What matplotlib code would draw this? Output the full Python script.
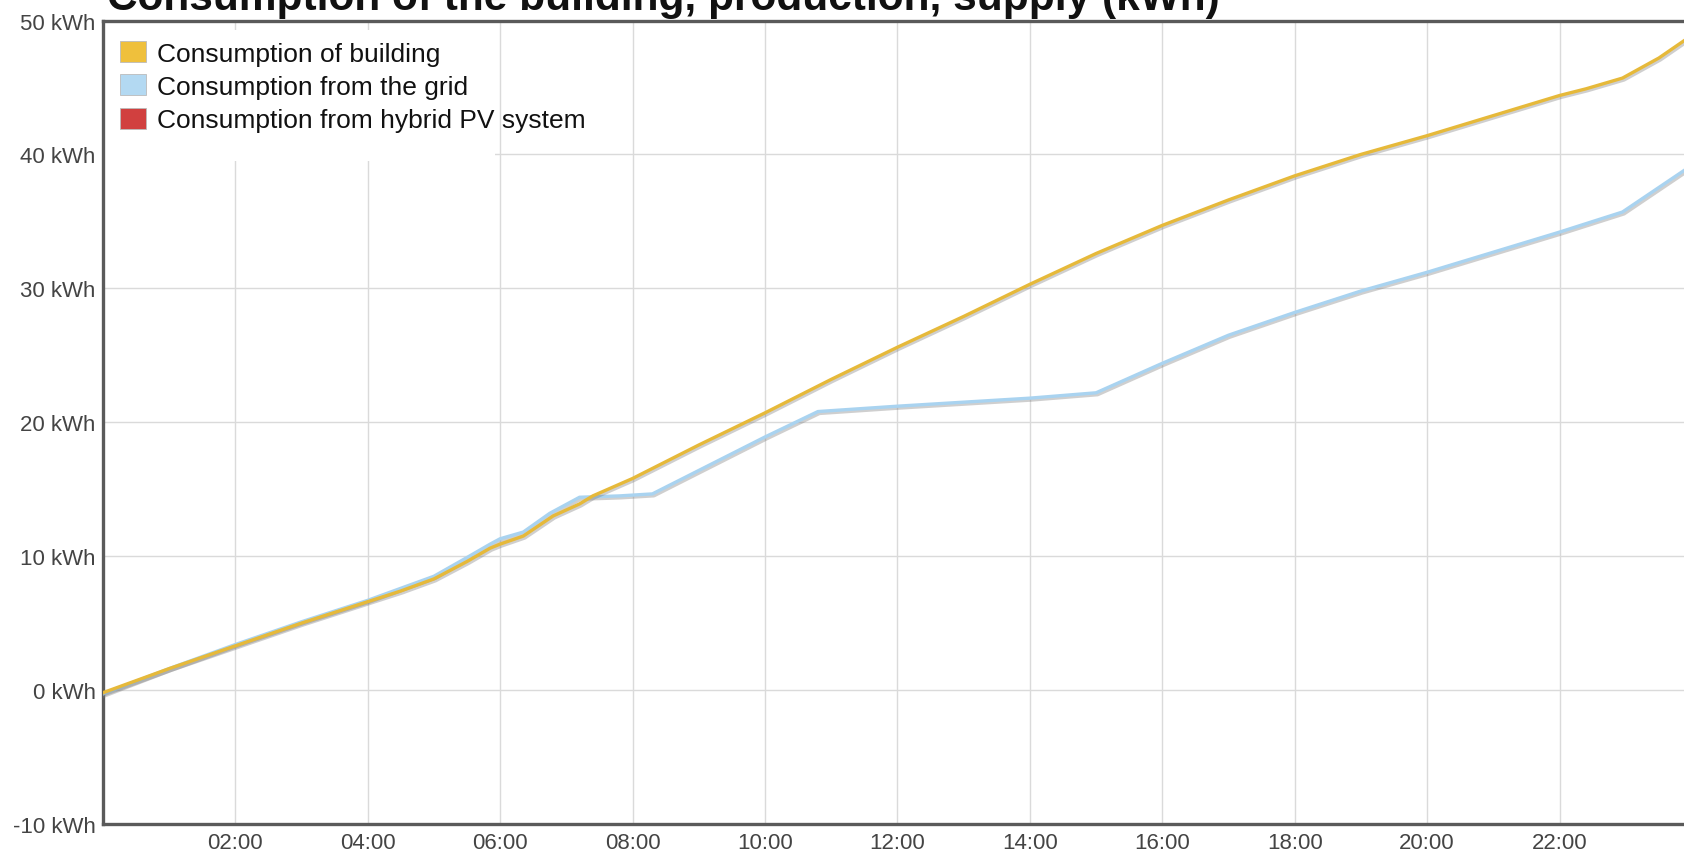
import matplotlib
matplotlib.use("Agg")
import matplotlib.pyplot as plt
from matplotlib.patches import Patch, Rectangle
import matplotlib.patheffects as pe

# ---- data (hours of day, cumulative kWh) ----
building_hours = [0.0, 1.0, 2.0, 3.0, 4.0, 4.5, 5.0, 5.5, 5.85, 6.0, 6.35, 6.8, 7.2, 7.4,
                  8.0, 9.0, 10.0, 11.0, 12.0, 13.0, 14.0, 15.0, 16.0, 17.0, 18.0, 19.0,
                  20.0, 21.0, 22.0, 22.4, 22.95, 23.5, 24.0]
building_kwh = [-0.2, 1.6, 3.3, 5.0, 6.6, 7.4, 8.3, 9.6, 10.6, 10.9, 11.5, 13.0, 13.9, 14.5,
                15.8, 18.3, 20.7, 23.2, 25.6, 27.9, 30.3, 32.6, 34.7, 36.6, 38.4, 40.0,
                41.4, 42.9, 44.4, 44.9, 45.7, 47.2, 48.9]

grid_hours = [0.0, 1.0, 2.0, 3.0, 4.0, 5.0, 5.5, 5.85, 6.0, 6.35, 6.75, 7.2, 7.8, 8.3,
              9.0, 10.0, 10.8, 12.0, 14.0, 15.0, 16.0, 17.0, 18.0, 19.0, 20.0, 21.0,
              22.0, 22.95, 24.0]
grid_kwh = [-0.3, 1.6, 3.4, 5.1, 6.7, 8.5, 9.9, 10.9, 11.3, 11.8, 13.2, 14.4, 14.5, 14.65,
            16.4, 18.9, 20.8, 21.2, 21.8, 22.2, 24.4, 26.5, 28.2, 29.8, 31.2, 32.7,
            34.2, 35.7, 39.2]

series_names = ["Consumption of building", "Consumption from the grid",
                "Consumption from hybrid PV system"]
series_colors = ["#EFC03C", "#B3D9F2", "#D1403F"]
line_colors = ["#E6B93A", "#A9D3F0"]

x_ticks = [2, 4, 6, 8, 10, 12, 14, 16, 18, 20, 22]
x_tick_labels = ["02:00", "04:00", "06:00", "08:00", "10:00", "12:00", "14:00",
                 "16:00", "18:00", "20:00", "22:00"]
y_ticks = [-10, 0, 10, 20, 30, 40, 50]
y_tick_labels = ["-10 kWh", "0 kWh", "10 kWh", "20 kWh", "30 kWh", "40 kWh", "50 kWh"]

title = "Consumption of the building, production, supply (kWh)"

# ---- figure ----
plt.rcParams['font.family'] = ['Liberation Sans', 'DejaVu Sans']
W, H = 1684, 854
fig = plt.figure(figsize=(W / 100, H / 100), dpi=100)
left = 102.8 / W
bottom = 1 - 825 / H
top = 1 - 21.5 / H
right_px = 1692
ax = fig.add_axes([left, bottom, (right_px - 102.8) / W, top - bottom])

ax.set_xlim(0, 24)
ax.set_ylim(-10, 50)

shadow = [pe.SimpleLineShadow(offset=(1.0, -1.0), shadow_color="#777777", alpha=0.35, linewidth=3.2),
          pe.Normal()]
ax.plot(building_hours, building_kwh, color=line_colors[0], lw=2.4, zorder=4,
        path_effects=shadow, solid_joinstyle="round")
ax.plot(grid_hours, grid_kwh, color=line_colors[1], lw=2.4, zorder=3,
        path_effects=shadow, solid_joinstyle="round")

ax.set_xticks(x_ticks)
ax.set_xticklabels(x_tick_labels)
ax.set_yticks(y_ticks)
ax.set_yticklabels(y_tick_labels)
ax.tick_params(axis="both", length=0, labelsize=16, colors="#444444")
ax.tick_params(axis="x", pad=6)
ax.tick_params(axis="y", pad=5)

ax.grid(True, color="#DADADA", lw=1.0, zorder=0)
ax.set_axisbelow(True)

for s in ["left", "bottom", "top"]:
    ax.spines[s].set_color("#5A5A5A")
    ax.spines[s].set_linewidth(2.4)
ax.spines["right"].set_visible(False)

# white legend background (smaller than the legend text, as in the reference)
bg = Rectangle((103 / W, 1 - 162 / H), (495 - 103) / W, (162 - 31) / H,
               transform=fig.transFigure, facecolor="white", edgecolor="none", zorder=1)
ax.add_patch(bg)

handles = [Patch(facecolor=c, edgecolor="#BBBBBB", lw=0.6) for c in series_colors]
leg = ax.legend(handles, series_names, loc="upper left",
                bbox_to_anchor=(120 / W, 1 - 42 / H), bbox_transform=fig.transFigure,
                borderaxespad=0.0, borderpad=0.0, fontsize=19, frameon=False,
                handlelength=1.0, handleheight=0.85, handletextpad=0.42,
                labelspacing=0.33)
leg.set_zorder(5)
for t in leg.get_texts():
    t.set_color("#111111")

fig.text(107 / W, 1 - 10 / H, title, fontsize=30.5, fontweight="bold",
         ha="left", va="baseline", color="#111111")

fig.savefig("out.png", dpi=100, facecolor="white")
